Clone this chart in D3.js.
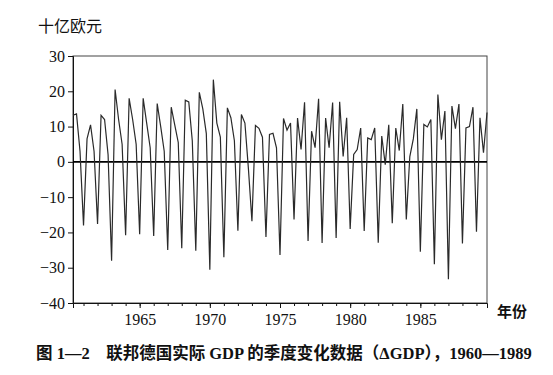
<!DOCTYPE html>
<html>
<head>
<meta charset="utf-8">
<script src="https://cdn.jsdelivr.net/npm/d3@7"></script>
<style>
  body { margin: 0; background: #fff; }
  text { font-family: "Liberation Serif", "Noto Sans CJK SC", serif; fill: #111; }
  .series { fill: none; stroke: #2a2a2a; stroke-width: 1.2; stroke-linejoin: miter; }
</style>
</head>
<body>
<script>
// quarterly change in real GDP, 1960Q2 .. 1989Q4
var startYear = 1960, startQuarter = 2;
var deltaGdp = [
  13.2, 13.6, 3,
  -18, 6.5, 10.5, 3,
  -17.6, 13.2, 12, 2,
  -28, 20.5, 12, 5,
  -20.8, 18, 12, 5,
  -20.5, 18, 11, 4,
  -21, 16.5, 10, 3,
  -25, 15.5, 10.5, 5.5,
  -24.5, 17.5, 17, 6,
  -25.2, 19.7, 15, 8,
  -30.6, 23.3, 11, 7,
  -27, 15.3, 12.5, 6,
  -19.5, 13.4, 11, -2,
  -16.8, 10.3, 9.5, 7,
  -21.3, 7.8, 8.1, 4,
  -26.4, 12.3, 9, 11,
  -16.3, 12.4, 3.5, 16.9,
  -22.4, 8.7, 4, 17.9,
  -23, 12.4, 4, 16.8,
  -21.6, 17, 1.5, 12.5,
  -19, 2.1, 3.5, 9.6,
  -19.6, 6.8, 6.3, 9.6,
  -22.9, 7.3, -0.8, 10.5,
  -17.4, 9.6, 3.2, 16.4,
  -16.3, 1.5, 6.5, 15,
  -25.5, 10.6, 9.9, 12,
  -29, 19.1, 6.3, 14.4,
  -33.3, 15.8, 9.4, 16.4,
  -23.1, 9.6, 10, 15.5,
  -19.8, 12.5, 2.6, 14
];
var yTicks = [30, 20, 10, 0, -10, -20, -30, -40];
var majorYears = [1965, 1970, 1975, 1980, 1985];
var minorYears = d3.range(1961, 1990);

var unitLabel = "十亿欧元";
var xLabel = "年份";
var caption = "图 1—2　联邦德国实际 GDP 的季度变化数据（ΔGDP），1960—1989";

var data = deltaGdp.map(function(v, i) {
  var q = startQuarter - 1 + i;
  return { t: startYear + q / 4, value: v };
});

var svgWidth = 553, svgHeight = 375;
var plotLeft = 73, plotRight = 487, plotTop = 56, plotBottom = 303;

var svg = d3.select("body").append("svg")
  .attr("width", svgWidth)
  .attr("height", svgHeight);

var x = d3.scaleLinear()
  .domain([data[0].t, data[data.length - 1].t])
  .range([plotLeft, plotRight]);
var y = d3.scaleLinear().domain([-40, 30]).range([plotBottom, plotTop]);

// frame
svg.append("rect")
  .attr("x", plotLeft).attr("y", plotTop)
  .attr("width", plotRight - plotLeft).attr("height", plotBottom - plotTop)
  .attr("fill", "none").attr("stroke", "#444").attr("stroke-width", 1);

// y axis
var yAxis = d3.axisLeft(y).tickValues(yTicks).tickSize(5).tickPadding(3)
  .tickFormat(function(d) { return d < 0 ? "\u2212" + Math.abs(d) : d; });
var gy = svg.append("g").attr("transform", "translate(" + plotLeft + ",0)").call(yAxis);
gy.select(".domain").attr("stroke", "#111");
gy.selectAll(".tick line").attr("stroke", "#111");
gy.selectAll(".tick text").style("font-size", "16px").attr("fill", "#111");

// x axis: minor ticks each year, labels every five years
var gxMinor = svg.append("g").attr("transform", "translate(0," + plotBottom + ")")
  .call(d3.axisBottom(x).tickValues(minorYears).tickSize(3).tickFormat(""));
gxMinor.select(".domain").remove();
gxMinor.selectAll(".tick line").attr("stroke", "#111");

var gx = svg.append("g").attr("transform", "translate(0," + plotBottom + ")")
  .call(d3.axisBottom(x).tickValues(majorYears).tickSize(5).tickPadding(6)
    .tickFormat(d3.format("d")));
gx.select(".domain").attr("stroke", "#111");
gx.selectAll(".tick line").attr("stroke", "#111");
gx.selectAll(".tick text").style("font-size", "16px").attr("fill", "#111");

// zero line
svg.append("line")
  .attr("x1", plotLeft).attr("x2", plotRight)
  .attr("y1", y(0)).attr("y2", y(0))
  .attr("stroke", "#000").attr("stroke-width", 1.8);

// series
var line = d3.line()
  .x(function(d) { return x(d.t); })
  .y(function(d) { return y(d.value); });

svg.append("path")
  .datum(data)
  .attr("class", "series")
  .attr("d", line);

// labels
svg.append("text")
  .attr("x", 38).attr("y", 32)
  .style("font-size", "16px")
  .text(unitLabel);

svg.append("text")
  .attr("x", 497).attr("y", 317)
  .style("font-size", "15px")
  .style("font-weight", "bold")
  .text(xLabel);

svg.append("text")
  .attr("x", 36).attr("y", 359)
  .style("font-size", "16.5px")
  .style("font-weight", "bold")
  .text(caption);
</script>
</body>
</html>
